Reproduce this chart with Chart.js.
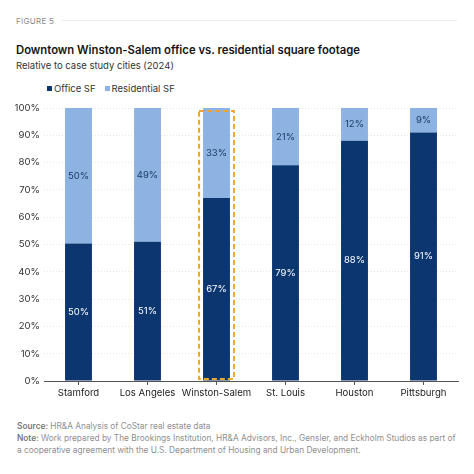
<!DOCTYPE html>
<html><head><meta charset="utf-8">
<script src="https://cdn.jsdelivr.net/npm/chart.js@4.4.1/dist/chart.umd.min.js"></script>
<style>
html,body{margin:0;padding:0;background:#fff;width:474px;height:474px;overflow:hidden;font-family:Inter,"Noto Sans",sans-serif;}
.abs{position:absolute;white-space:nowrap;}
#fig{left:16px;top:16px;font-size:8px;color:#8a8a8a;letter-spacing:0.3px;}
#figline{left:62px;top:20px;width:395px;height:1px;background:#ececec;}
#title{left:16px;top:43px;font-size:11.3px;font-weight:600;color:#151515;}
#sub{left:16px;top:60px;font-size:9.5px;color:#333;}
#legend{left:47px;top:83px;font-size:9.5px;color:#333;}
#legend span.sw{display:inline-block;width:5px;height:5px;margin-right:2px;vertical-align:1px;}
#legend span.it{margin-right:9px;}
#chartbox{left:0;top:96px;width:474px;height:309px;}
#foot{left:17px;top:420px;font-size:8.3px;color:#8f8f8f;line-height:12.2px;}
#foot b{color:#777;font-weight:600;}
</style></head>
<body>
<div id="fig" class="abs">FIGURE 5</div>
<div id="figline" class="abs"></div>
<div id="title" class="abs">Downtown Winston-Salem office vs. residential square footage</div>
<div id="sub" class="abs">Relative to case study cities (2024)</div>
<div id="legend" class="abs"></div>
<div id="chartbox" class="abs"><canvas id="c"></canvas></div>
<div id="foot" class="abs"><b>Source:</b> HR&amp;A Analysis of CoStar real estate data<br><b>Note:</b> Work prepared by The Brookings Institution, HR&amp;A Advisors, Inc., Gensler, and Eckholm Studios as part of<br>a cooperative agreement with the U.S. Department of Housing and Urban Development.</div>
<script>
const categories = ["Stamford","Los Angeles","Winston-Salem","St. Louis","Houston","Pittsburgh"];
const officeSF = [50.4, 51, 67, 79, 88, 91];
const residentialSF = [49.6, 49, 33, 21, 12, 9];
const seriesNames = ["Office SF","Residential SF"];
const seriesColors = ["#0c3670","#8db3e2"];
const labelColors = ["#ffffff","#1d3a66"];
const yTicks = [0,10,20,30,40,50,60,70,80,90,100];
const highlightIndex = 2;

document.getElementById('legend').innerHTML = seriesNames.map((n,i)=>
  '<span class="it"><span class="sw" style="background:'+seriesColors[i]+'"></span>'+n+'</span>').join('');

const labelPlugin = {
  id:'barLabels',
  afterDatasetsDraw(chart){
    const ctx = chart.ctx;
    ctx.save();
    ctx.font = '9.5px Inter, "Noto Sans", sans-serif';
    ctx.textAlign='center'; ctx.textBaseline='middle';
    chart.data.datasets.forEach((ds,di)=>{
      const meta = chart.getDatasetMeta(di);
      meta.data.forEach((bar,i)=>{
        const top = Math.min(bar.y, bar.base), bot = Math.max(bar.y, bar.base);
        ctx.fillStyle = labelColors[di];
        ctx.fillText(Math.round(ds.data[i])+'%', bar.x, (top+bot)/2);
      });
    });
    const m0 = chart.getDatasetMeta(0).data[highlightIndex];
    const ys = chart.scales.y;
    const half = m0.width/2 + 4;
    ctx.strokeStyle = '#f4a62a';
    ctx.lineWidth = 2;
    ctx.setLineDash([5,3]);
    ctx.strokeRect(m0.x-half, ys.getPixelForValue(100)+3, half*2, ys.getPixelForValue(0)-2-(ys.getPixelForValue(100)+3));
    ctx.restore();
  }
};

new Chart(document.getElementById('c'),{
  type:'bar',
  data:{
    labels:categories,
    datasets:[
      {label:seriesNames[0],data:officeSF,backgroundColor:seriesColors[0]},
      {label:seriesNames[1],data:residentialSF,backgroundColor:seriesColors[1]}
    ]
  },
  options:{
    responsive:true,maintainAspectRatio:false,animation:false,
    layout:{padding:{top:12,right:16,left:0,bottom:0}},
    datasets:{bar:{barPercentage:0.39,categoryPercentage:1}},
    plugins:{legend:{display:false},tooltip:{enabled:false}},
    scales:{
      x:{stacked:true,
        grid:{display:true,drawOnChartArea:false,drawTicks:true,tickLength:4,color:'#555',offset:false},
        border:{display:true,color:'#555',width:1},
        ticks:{color:'#222',font:{family:'Inter',size:9.6},padding:2,maxRotation:0,autoSkip:false},
        afterFit(s){s.height=24;}
      },
      y:{stacked:true,min:0,max:100,
        afterBuildTicks(s){s.ticks=yTicks.map(v=>({value:v}));},
        grid:{color:'#e6e6e6',lineWidth:1,drawTicks:false},
        border:{display:false,dash:[1,2]},
        ticks:{color:'#333',font:{family:'Inter',size:9.6},padding:4,callback:v=>v+'%'},
        afterFit(s){s.width=44;}
      }
    }
  },
  plugins:[labelPlugin]
});
</script>
</body></html>
